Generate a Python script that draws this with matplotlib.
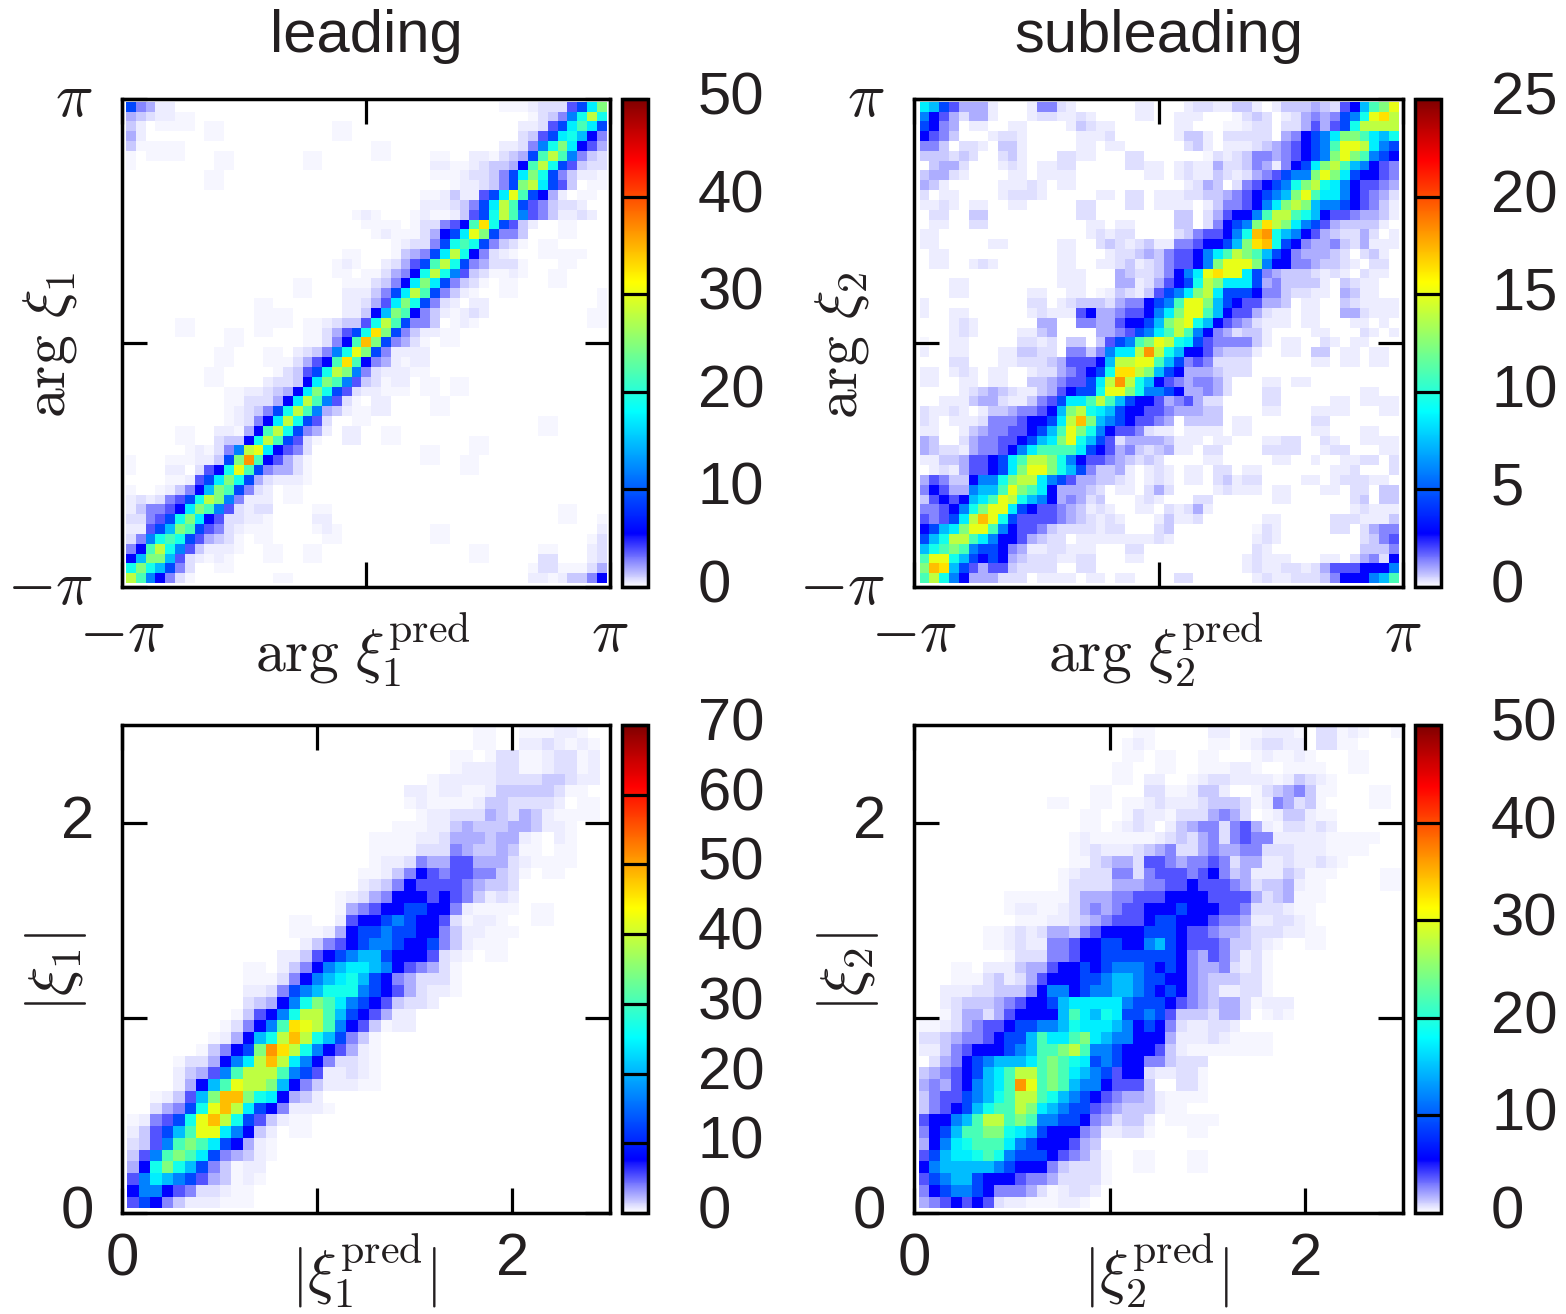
import numpy as np
import matplotlib
matplotlib.use("Agg")
import matplotlib.pyplot as plt
from matplotlib.colors import LinearSegmentedColormap
from matplotlib.transforms import ScaledTranslation

plt.rcParams['font.family'] = ['Liberation Sans', 'DejaVu Sans']
plt.rcParams['mathtext.fontset'] = 'cm'

W, H = 1566, 1314

LEVELS = dict(zip(".abcdefghijklmnopqrst",
                  [0, .004, .009, .015, .024, .037, .054, .075, .11, .18, .237, .296, .345,
                   .38, .435, .495, .557, .60, .654, .689, .728]))

# cells per row, top row first: "first column:levels"
rows_arg1 = [
    "0:ifebb 38:aaabcccgilo", "0:edcbbaa 41:acdfjmpm", "0:db.aaaa 8:aa 21:aa 40:bbcgilnli",
    "0:eb 8:aa 21:aa 40:cdgilmkhf", "0:daaaaa 25:aa 38:bbcfjmolhge",
    "0:a 2:aaaa 9:aa 18:aa 25:aa 31:aa 35:bbacdeinpnjfdc", "0:a 9:aa 18:aa 31:bbaabcddehnpmigdcc",
    "8:aa 31:aaabccdfilomifdbba", "8:aa 33:abbcdfiopligd.aa", "30:aabdbbgilqniheb 46:aa",
    "30:bbbcdfilpnigfdccb", "23:aba 29:abaabdgimpnjgfdbbcb", "24:aaa 27:a 29:accfghnrmigdb 44:aa",
    "25:abaaacehilqoiffd 44:aa", "27:abccfimnmifdca 42:aa", "22:aa 27:adefilpmhfcba 42:aaaaa",
    "21:aba 26:bceginpmifeccca 44:aa", "21:aa 24:aacefhmpmjgdcaaba 43:aa",
    "17:aa 22:aaacdfhlolifdca 38:aa 43:aa", "17:aa 22:bbbdfilpnifdba 38:aa 48:a",
    "13:aa 22:bbceglomifcb 35:bb 48:a", "13:aaaa 22:bbdhkonhfdbabcb 47:aa",
    "5:aa 13:aaaa 18:aabcddgmpniffd 33:aba 47:aa", "5:aa 10:aa 13:aa 18:aacegimroifdbbaa",
    "10:aa 18:aacfhnsoifeca 32:aa", "9:aa 14:aa 17:bcdfjmqoifbbbb", "9:aa 14:aaa 17:ceghnrnhfebabb",
    "8:aa 15:acdgimpojfcbbbaa", "8:aa 14:bccdhlonjgdcabb 30:aa 33:aa",
    "10:aabbcdehlomigcbbaaa 30:aa 33:aa", "10:aacccehlpnjgca 25:bb 31:aa",
    "10:abcdfimpnjedbaabb 31:aa", "10:abcfhlpmigc 23:aa 42:aa", "5:aa 9:bbaehnpmifeb 22:bb 26:aa 42:aa",
    "5:aa 9:cddhmpnigca 22:bb 26:aa 35:aa", "6:abacfjpqlhgfc 30:aa 35:aa",
    "0:a 4:aaabbdiotnhgeca 30:aa 34:aa", "0:a 4:bb 7:cghmqnifeeca 34:aa", "4:aabgilomiecbbba",
    "0:a 3:abdfhkonifcb 16:aa", "0:bcbcfgimpojfbbb 16:aa", "0:bdffghlonjgcbcc 19:aa 44:aa",
    "0:ccfgimolhgccbba 19:bb 44:aa 48:a", "0:bbgikonigfcbaaa 19:aba 31:aa 48:b",
    "0:cfjmnmigedca 13:aa 20:aa 31:aa 47:ac", "0:fhnpmjgdbbba 14:aa 18:aa 35:aa 42:aa 47:bc",
    "0:hkookgcbaba 14:aa 18:aa 35:aa 42:cc 47:bc", "0:momkifc 9:aa 41:accaaace",
    "0:pnjhfca 15:aa 41:bbabddfh",
]

rows_arg2 = [
    "0:lkigeeeb 11:bffcb 22:bb 27:bccbbddb 36:bdddedcghknoq",
    "0:jhgeceeb 11:bccbbcb 22:bb 26:bbb 32:acdc 37:bcefefijmqrp",
    "0:ihfe 5:bb 9:bb 15:bdcbb 26:bb 31:aabcc 37:ccegegimpppp",
    "0:hgfd 7:bccb 16:bbbc 26:bddb 31:ccccc 37:efhijloonlkm",
    "0:ffd 4:ccb 8:ddb 16:bb 19:bb 27:cdb 31:bbbcdefghijnqqplji",
    "0:dddcdc 8:cdb 14:ccbb 21:cc 29:acbcdffefghijoqonjih",
    "1:deec 8:bcb 12:bbcc 21:ccbb 26:bcbbeccdfebfhilopnkjhgf",
    "0:deecb 9:bb 12:bbbb 23:bb 26:bcbbdcbcefgijjoqolihhgf",
    "0:edb 8:bbbcb 14:bb 27:bced.cfghijmopmljhggfe",
    "0:c.bb 8:bcccb 18:bb 21:cc 24:bbbccddefghijkoqnlljhgfec",
    "0:bbcb 5:bb 9:bb 16:cc 21:cc 24:bbbb.bdffghjlopokjjihgfdb",
    "1:cc 5:dd 16:cc 26:dd 29:ceghhjnppnmkhggfeedb",
    "1:bb 5:cc 17:bb 20:bb 26:dd.cfhijorpoljigeddddb",
    "0:bb 17:bcbcc 26:cdfgghjmstmkjhgedccec.b",
    "0:bb 7:bb 14:bb 18:cdcbcdbbffghhikorsmihfeefdcebbb",
    "1:bb 14:bb 19:bccdedfgghjlnponkihfeeedc.cdb",
    "1:bb 5:bcb 14:bb 18:bbcdbcdfgghjoqqqojhhffeddcb 46:cc",
    "14:bbb 20:edccdfhjlqrqqlifedddcbcb 45:cbb",
    "3:bb 14:bbb 20:eebceghimpolllie 36:fddddb.dcbb",
    "3:bb 11:bb 15:bb 18:abdcbdgijlopliiihffdccbb.edbb",
    "0:b 11:cc 14:bcdddceffhijnqqokihggeed 39:bb 43:dcbb 47:bb",
    "0:b 3:bb 11:bcbbbgheefgghjloqqnkhggecbb 39:bb 43:eecbbb",
    "3:bcb 12:ee 16:ffeeghhikopqmkhgfecbbb 39:bb 44:bb 47:b",
    "3:bcb 10:bbde 18:eefgijlnpnjhfecddb 40:bb 45:cb 48:b",
    "0:a 3:bb 10:ccbc 15:dd 18:dgijnoqpmligffffdb 37:bb 41:cb 44:bb",
    "0:b 3:bb 8:bbddcc 15:ffdfjllptpmkhhgedddb 37:bb 40:dd 43:bb 46:bb",
    "3:cc 8:bbcccdeggghkppqqnkifgfcccc 40:bb 43:bb 46:bb",
    "0:bb 3:bcb 7:bb 11:bccefghimrrpokiheeedccc",
    "0:bb 4:bb 7:bb 11:ddefggilptpmkhgfeffec 35:bb 38:bb",
    "4:bcdedcbbdeghiimqqomjjiheefec 35:cc 45:bb",
    "2:bbbdeecbbdfgillnpnkihhgefgecc 35:cc 42:bb 45:bbbb",
    "0:cbbcb.bddeffghkopmlkihhggfeeedd 35:bb 40:bbbb 47:bb",
    "0:cb 3:bbbcfffghhilpsokjihggfe.dddd 32:bb 40:cc",
    "0:bb 4:bdeffgghiknqomjhggfcbb 27:bbbb 32:bb 40:bb 45:bb",
    "0:ed 4:ceffgghikloqmkigceeeedbbb 30:bb 35:bb 37:cc 41:cb 45:bbbb",
    "0:edccbeffghjlnnnnlihgefdcdebb 29:cc 35:cccc 41:bcc 47:bb",
    "0:bbddegghilnppomjhggfedcdc 29:bb 36:bb 40:b 43:bbcc 48:c",
    "1:bcbegghiloqqomkifddeb.bcb 27:bb 30:cc 33:bb 42:bbc 48:c",
    "0:egfddhjjmoppljigeeddcb.bcb 27:bb 30:cdbcc 39:bb 42:bccc 46:bb",
    "0:fhgeejkknqonlheeedc.bb.cec 30:bcbbb 36:bb 41:bb 44:cc 47:dd",
    "0:dghghklnqpmkjhefecd 22:bcb 28:cc 36:bb 44:cd 47:dd",
    "0:ffghjmoqqlihggfedbcb 22:bb 25:cbceb 44:bcbbb",
    "0:gfgilpsqmiggggfedcbcb 24:bdbbc 35:bb 42:ccc 45:bbbd",
    "0:hikloqqnjhggfdccccbcc 24:cd 34:acb 42:cc 45:ceff",
    "0:ikmppnljhhgedcc 16:bbbbbbbbcb 34:bcb 45:cdfg",
    "0:kmnonjiihfebbccbbb 21:cc 34:cb 45:dddf",
    "0:nqqmkihihedcccbbcc 21:bb 33:bcbbb 41:bb 44:cefch",
    "0:osrkigeggdcccc 16:cc 33:bcbbccbceggghhhj",
    "0:npmjheeeccc.bbbb.bb 20:bb 26:cc 34:bcbbcccdfhhhjkn",
]

rows_abs1 = [
    "30:aa 34:aaabba", "30:aa 34:bbcbaba", "28:aa 31:a 32:cc 34:aabccab", "28:abbbccaabccab",
    "26:a 27:bbbbb 32:ccccddcbba", "24:bbabbaabdddddcaa", "24:abaaaabddccccb.aa",
    "25:abbcccedcedbaaaa", "23:aaa 26:bbdedddeedbba", "21:aaaa 25:bbceeedeeba.ba",
    "21:aaa 24:acccfeddedaa 37:aa", "21:abbcfeeggeeecbaaaa", "20:aabdfhgfggffdca 36:aa",
    "20:bcdfhggggfeddc", "18:abcefhhhghgfdbcb", "18:aefghhiihhfbaaaa 35:aa",
    "14:aa 18:bghhijihhgcabba 35:aa", "14:aaabehiijiihhfdbbaaa", "15:bdfghijjihhifdbaaa",
    "13:bbdghijkkihhhgcba 31:aa", "10:aa 13:bdfhjkllkjhgfeca", "10:aaacfhjklmkihfeccca",
    "10:bbcfijkmmmjihgecbba", "10:cdehjmonljihgdccb", "9:adghjmppnkihgebb", "8:acfhjnrqpnjhgdabb",
    "7:abehkmpspmkifda", "6:adfhiotrpmjhgeba", "4:accehjlpspljhfccba", "4:bdegjnpppnjigbbcba",
    "4:behknqppokhfdbbbaa", "2:abdgkossomlhedb", "2:cefimqsplihfbbba", "0:abfgimqspmigdbaa",
    "0:bdgiknqqljhdb 14:aa", "0:cdgjnonliheba", "0:dgjnonlifedba", "0:ehmomkifdabb", "0:gjlkjigedaba",
    "0:hjjhgfccbaa", "0:gihfdbbbaaa",
]

rows_abs2 = [
    "20:aa 27:bb 30:aabbba 37:ccaba 44:a", "19:aba 27:aa 30:abccbb 37:ccaa",
    "19:aa 22:aa 26:aa 31:abaaba 40:aa", "18:aa 22:aa 26:aaabba 34:aaaa 40:aa",
    "18:aa 21:bb 25:abccbbbba 34:bdcba", "16:aa 21:ccaabddb 31:acdefdaa 42:aa",
    "12:aa 16:aa 19:aabcbbbcdddcabfecda 42:aa", "15:aa 19:acbba 24:cccefec.abddbaa",
    "15:aa 18:abcb.bdeffcfgebaccbcb", "14:abaaaaaabcdcefcfgffbbbbb 38:aaaaa",
    "14:abcbbbcdefccefeeffcccbbbaaaa", "14:aacdeecggfeffgfceebbcbbcba",
    "13:abcccffcfgggfghfdebbbdcaaa 43:aa", "13:acccceeeffgghgggfecddebaa 43:aa",
    "8:aaaaa 13:aceeeffggghhhhggggecdeaaa", "8:abbaabcefefgghhhihhhggfcccbaa",
    "9:aaabbcdefggghiihhhgffebbccba", "6:aabcbceedfghhhhiiihggfeedcccbbaa",
    "6:aabcbbffghhiihhjkihgggfddcba 36:aa", "8:acccffghhiiiiiiihfegfdbca",
    "3:aa 6:bbbdeeghhihijjjihihfeefcbca", "3:aaa 6:cdbceghhhiijkkjiihhfedddcca",
    "2:bbbccdddfhjjhijjkkjihihfedbbcca", "2:bcdddefghhikllllljiiihgfedeecabbb",
    "2:aceeceghhhhknlkmliijigdddceec.aba", "0:aabcefgghiijjkmlllkjhihfcbbccb",
    "0:ccdeffghiiknllnolkjjhhhebbbcbaaaa", "0:bbdfghhhijknnopnjjihhhgdbaaaa 29:aaaa",
    "1:cefhijkkklnonmlijihhffdccc", "0:defghiklnppnonlkjighhcbbcca", "0:efeghjklntqnonkjjhgggd..cca",
    "0:dfggijkmnppnmkjihgfeedbaaaa", "0:dfghikmnnpolkjiigfedddbaa", "0:ghhjknppnonjjiihfecddb 23:aaaaa",
    "0:fhiknnoomlkihhhfebbcca 25:aa", "0:ehjlmnnnljihhhged", "0:gikllmnmjiiihgfeca 20:aa 25:aa",
    "0:hjkkkkkjihhhfdccca 20:aa 25:aa", "0:gijkkihhhgffecccca", "0:fhijjihfffecabccb",
    "0:efghghgcbbaaabba",
]

titles = ["leading", "subleading"]
xlabels = [r"$\arg\,\xi_1^{\mathrm{pred}}$", r"$\arg\,\xi_2^{\mathrm{pred}}$",
           r"$|\xi_1^{\mathrm{pred}}|$", r"$|\xi_2^{\mathrm{pred}}|$"]
ylabels = [r"$\arg\,\xi_1$", r"$\arg\,\xi_2$", r"$|\xi_1|$", r"$|\xi_2|$"]
vmaxes = [50, 25, 70, 50]
cbar_ticks = [[0, 10, 20, 30, 40, 50], [0, 5, 10, 15, 20, 25],
              [0, 10, 20, 30, 40, 50, 60, 70], [0, 10, 20, 30, 40, 50]]


def parse_rows(rows, ncol, vmax):
    # rows are listed from the top, the mesh wants them from the bottom
    grid = np.zeros((len(rows), ncol))
    for i, row in enumerate(rows):
        for part in row.split():
            start, codes = part.split(":")
            for j, code in enumerate(codes):
                col = int(start) + j
                if col < ncol:
                    grid[len(rows) - 1 - i, col] = LEVELS[code] * vmax
    return grid


def add_axes_px(x0, y0, x1, y1):
    # pixel box measured from the top left corner
    return fig.add_axes([x0 / W, 1 - y1 / H, (x1 - x0) / W, (y1 - y0) / H])


def put_text(x, y, s, size, **kw):
    fig.text(x / W, 1 - y / H, s, fontsize=size, ha="center", va="center", color="#231f20", **kw)


def lift_labels(labels, px):
    # tick labels sit a little above their tick in the reference
    shift = ScaledTranslation(0, px / 100, fig.dpi_scale_trans)
    for label in labels:
        label.set_transform(label.get_transform() + shift)


cmap = LinearSegmentedColormap.from_list(
    "white_jet",
    [(0, "#ffffff"), (.11, "#0000ff"), (.36, "#00ffff"), (.625, "#ffff00"), (.875, "#ff0000"), (1, "#800000")],
    N=512)

fig = plt.figure(figsize=(W / 100, H / 100), dpi=100)

# frame box, colour bar box and the share of the frame covered by cells
panels = [
    dict(rows=rows_arg1, ncol=49, box=(122, 99, 610, 587), cbx=(622, 648), fx=(.0082, .9932), fy=(.0082, .9945)),
    dict(rows=rows_arg2, ncol=49, box=(914, 99, 1403, 587), cbx=(1415, 1441), fx=(.0116, .991), fy=(.0082, .9945)),
    dict(rows=rows_abs1, ncol=41, box=(122, 725, 610, 1213), cbx=(622, 648), fx=(.0109, .9795), fy=(.0096, .9966)),
    dict(rows=rows_abs2, ncol=45, box=(914, 725, 1403, 1213), cbx=(1415, 1441), fx=(.0095, .9966), fy=(.0096, .9966)),
]

for k, p in enumerate(panels):
    x0, y0, x1, y1 = p["box"]
    ax = add_axes_px(x0, y0, x1, y1)
    lo, hi = (-np.pi, np.pi) if k < 2 else (0, 2.5)
    span = hi - lo
    grid = parse_rows(p["rows"], p["ncol"], vmaxes[k])
    xedges = np.linspace(lo + p["fx"][0] * span, lo + p["fx"][1] * span, p["ncol"] + 1)
    yedges = np.linspace(lo + p["fy"][0] * span, lo + p["fy"][1] * span, len(p["rows"]) + 1)
    mesh = ax.pcolormesh(xedges, yedges, grid, cmap=cmap, vmin=0, vmax=vmaxes[k],
                         edgecolors="none", antialiased=False)
    ax.set_xlim(lo, hi)
    ax.set_ylim(lo, hi)

    if k < 2:
        ax.set_xticks([-np.pi, 0, np.pi], [r"$-\pi$", "", r"$\pi$"])
        ax.set_yticks([-np.pi, 0, np.pi], [r"$-\pi$", "", r"$\pi$"])
        size, xpad, ypad = 45, 13, 21
    else:
        ax.set_xticks([0, 1, 2], ["0", "", "2"])
        ax.set_yticks([0, 1, 2], ["0", "", "2"])
        size, xpad, ypad = 43, 14, 20
    ax.tick_params(direction="in", top=True, right=True, length=18, width=2.3,
                   labelsize=size, labelcolor="#231f20")
    ax.tick_params(axis="x", pad=xpad)
    ax.tick_params(axis="y", pad=ypad)
    lift_labels(ax.get_yticklabels(), 6)
    for spine in ax.spines.values():
        spine.set_linewidth(2.5)

    cax = add_axes_px(p["cbx"][0], y0, p["cbx"][1], y1)
    cb = fig.colorbar(mesh, cax=cax, ticks=cbar_ticks[k])
    cb.outline.set_linewidth(2.5)
    cax.tick_params(direction="in", length=19, width=2.3, labelsize=43, pad=36, labelcolor="#231f20")
    lift_labels(cax.get_yticklabels(), 6)

    cx = (x0 + x1) / 2
    if k < 2:
        put_text(cx, 37, titles[k], 43)
        put_text(cx - 3, 651, xlabels[k], 43)
        put_text(x0 - 72, (y0 + y1) / 2 + 2, ylabels[k], 43, rotation=90)
    else:
        put_text(cx - 2, 1272, xlabels[k], 43)
        put_text(x0 - 66, (y0 + y1) / 2 + 3, ylabels[k], 44, rotation=90)

fig.savefig("out.png", dpi=100)
